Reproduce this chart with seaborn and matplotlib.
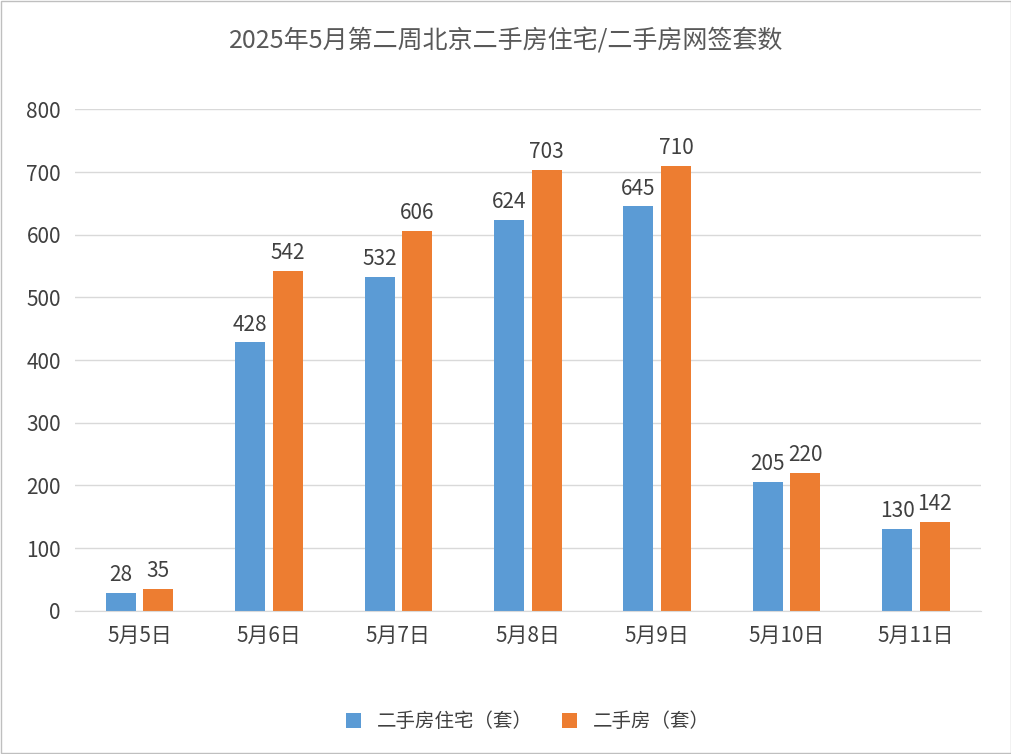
import matplotlib
matplotlib.use("Agg")
import matplotlib.pyplot as plt
import seaborn as sns
import pandas as pd
from matplotlib.patches import Rectangle

plt.rcParams["font.family"] = ["Noto Sans CJK SC"]

dates = ["5月5日", "5月6日", "5月7日", "5月8日", "5月9日", "5月10日", "5月11日"]
residential = [28, 428, 532, 624, 645, 205, 130]
total = [35, 542, 606, 703, 710, 220, 142]
series_names = ["二手房住宅（套）", "二手房（套）"]
colors = ["#5B9BD5", "#ED7D31"]

df = pd.DataFrame({
    "date": dates * 2,
    "value": residential + total,
    "series": [series_names[0]] * len(dates) + [series_names[1]] * len(dates),
})

fig = plt.figure(figsize=(10.12, 7.54), dpi=100)
ax = fig.add_axes([0.074, 0.19, 0.895, 0.665])
sns.barplot(data=df, x="date", y="value", hue="series", palette=colors,
            width=0.58, gap=0.2, ax=ax, saturation=1, legend=True)

ax.set_ylim(0, 800)
ax.set_yticks(range(0, 801, 100))
ax.yaxis.grid(True, color="#D9D9D9", linewidth=1)
ax.set_axisbelow(True)
for s in ["top", "right", "left"]:
    ax.spines[s].set_visible(False)
ax.spines["bottom"].set_color("#D9D9D9")
ax.tick_params(length=0, labelsize=15, colors="#404040", pad=10)
ax.set_xlabel("")
ax.set_ylabel("")
for c in ax.containers:
    ax.bar_label(c, padding=5, fontsize=15, color="#404040")

ax.legend(loc="upper center", bbox_to_anchor=(0.5, -0.165), ncol=2, frameon=False,
          fontsize=14, handlelength=0.8, handleheight=0.8, columnspacing=1.5,
          labelcolor="#404040")
fig.suptitle("2025年5月第二周北京二手房住宅/二手房网签套数", y=0.963, fontsize=18,
             color="#595959")
fig.patches.append(Rectangle((0.001, 0.001), 0.998, 0.998, transform=fig.transFigure,
                             fill=False, edgecolor="#BFBFBF", linewidth=1))
fig.savefig("out.png", dpi=100)
